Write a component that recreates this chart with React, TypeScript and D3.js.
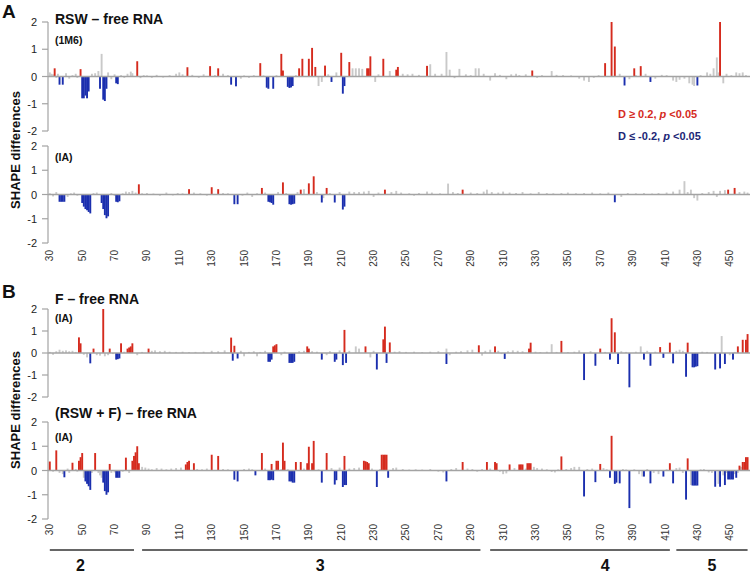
import React from "react";
import * as d3 from "d3";

// nucleotide positions shown on the x axis
const firstNt = 30;
const lastNt = 462;
const ntTicks = [30, 50, 70, 90, 110, 130, 150, 170, 190, 210, 230, 250, 270, 290, 310, 330, 350, 370, 390, 410, 430, 450];
const yTicks = [2, 1, 0, -1, -2];

// [nucleotide, SHAPE difference]
// RSW - free RNA (1M6)
const rsw1m6Up = [[33,0.3],[49,0.27],[84,0.56],[115,0.34],[129,0.38],[134,0.3],[160,0.49],[173,0.83],[174,0.22],[184,0.3],[186,0.65],[190,0.65],[192,1.05],[194,0.35],[200,0.4],[210,0.87],[215,0.53],[226,0.3],[227,0.3],[228,0.74],[236,0.65],[244,0.25],[245,0.35],[263,0.39],[328,0.22],[373,0.49],[377,2.0],[379,1.1],[391,0.3],[395,0.38],[444,2.0]];
const rsw1m6Down = [[36,-0.3],[38,-0.3],[50,-0.8],[51,-0.8],[52,-0.7],[53,-0.8],[54,-0.55],[61,-0.45],[63,-0.85],[64,-0.9],[65,-0.45],[71,-0.25],[72,-0.28],[142,-0.3],[145,-0.36],[164,-0.41],[165,-0.45],[168,-0.45],[177,-0.38],[178,-0.42],[179,-0.4],[180,-0.35],[204,-0.2],[211,-0.63],[212,-0.35],[385,-0.33],[401,-0.2],[430,-0.33]];
const rsw1m6Other = [[30,0.15],[31,0.1],[32,0.08],[34,-0.05],[35,0.1],[40,0.12],[42,-0.08],[44,0.05],[46,0.1],[47,-0.05],[56,0.1],[58,0.12],[60,0.2],[62,0.83],[66,0.15],[68,-0.1],[70,0.08],[74,0.05],[76,-0.05],[78,0.1],[80,0.18],[81,0.12],[86,-0.06],[88,0.05],[90,0.04],[93,-0.05],[96,0.06],[100,-0.04],[104,0.05],[108,0.1],[110,0.15],[112,0.08],[118,0.06],[122,-0.05],[125,0.08],[132,0.05],[137,0.1],[140,0.05],[148,-0.08],[150,0.04],[153,-0.05],[156,0.05],[162,0.04],[170,0.05],[182,0.05],[196,-0.35],[198,-0.2],[202,0.08],[207,0.15],[217,0.3],[219,0.3],[221,0.3],[223,0.28],[231,-0.2],[233,0.08],[240,0.2],[248,0.1],[251,0.08],[254,0.1],[258,0.06],[265,0.45],[268,0.1],[272,0.1],[275,0.9],[277,0.25],[280,-0.06],[283,0.28],[287,0.08],[290,0.05],[293,0.3],[295,0.3],[298,0.1],[302,-0.15],[305,0.12],[308,0.06],[312,-0.1],[315,0.08],[318,0.1],[320,0.05],[324,0.08],[331,-0.05],[334,0.05],[340,0.2],[343,0.06],[347,0.05],[352,0.04],[357,-0.08],[360,-0.15],[363,-0.2],[366,-0.05],[369,0.05],[382,0.1],[388,-0.1],[392,0.05],[398,0.1],[404,-0.08],[408,0.06],[411,0.05],[415,-0.15],[417,-0.2],[419,-0.12],[422,-0.08],[425,-0.25],[427,-0.3],[428,-0.35],[432,0.05],[436,0.15],[438,0.1],[440,0.3],[442,0.7],[443,0.15],[446,-0.25],[448,0.1],[451,0.05],[454,0.15],[456,0.12],[458,0.15],[460,0.05]];

// RSW - free RNA (IA)
const rswIaUp = [[85,0.42],[116,0.22],[130,0.3],[134,0.22],[161,0.27],[174,0.5],[185,0.2],[190,0.46],[193,0.75],[201,0.27],[237,0.2],[285,0.2],[449,0.2],[453,0.27]];
const rswIaDown = [[36,-0.3],[37,-0.3],[38,-0.3],[39,-0.3],[50,-0.35],[51,-0.5],[52,-0.6],[53,-0.65],[54,-0.72],[55,-0.78],[62,-0.35],[63,-0.6],[64,-0.85],[65,-0.98],[66,-0.9],[71,-0.3],[72,-0.32],[73,-0.28],[144,-0.4],[146,-0.4],[165,-0.3],[166,-0.32],[167,-0.35],[168,-0.42],[178,-0.4],[179,-0.42],[180,-0.4],[181,-0.38],[198,-0.33],[206,-0.33],[211,-0.62],[212,-0.5],[379,-0.32]];
const rswIaOther = [[30,0.05],[32,-0.08],[34,0.1],[41,-0.1],[43,0.05],[45,0.08],[47,-0.05],[57,0.06],[59,0.08],[68,0.06],[70,-0.06],[75,0.05],[77,0.12],[79,0.1],[81,0.15],[83,0.08],[87,0.05],[90,0.06],[94,0.04],[98,-0.05],[102,0.08],[106,-0.04],[109,0.06],[112,0.05],[119,0.08],[123,0.05],[127,-0.05],[137,0.06],[140,0.05],[149,-0.05],[152,0.08],[155,-0.1],[158,0.05],[163,0.08],[171,0.1],[176,0.06],[183,0.1],[187,0.22],[195,0.1],[199,-0.15],[203,0.06],[209,0.1],[215,0.12],[218,0.1],[221,0.1],[224,0.12],[227,0.15],[230,-0.1],[233,0.08],[241,0.1],[244,0.15],[247,0.08],[252,0.05],[255,-0.05],[258,0.06],[263,0.12],[266,0.08],[271,0.05],[276,0.45],[279,0.1],[282,0.06],[290,0.08],[294,0.06],[298,0.12],[300,0.2],[303,0.1],[307,0.08],[310,0.12],[314,0.08],[318,0.06],[322,0.1],[327,0.05],[332,0.1],[337,0.06],[341,0.05],[346,0.06],[350,0.08],[355,0.05],[360,0.06],[365,0.08],[370,0.05],[375,0.08],[383,-0.1],[387,0.06],[392,0.05],[397,0.06],[402,0.04],[406,0.06],[411,0.08],[415,0.12],[419,0.2],[422,0.55],[424,0.1],[426,0.2],[428,-0.15],[430,-0.25],[433,0.06],[437,0.1],[440,0.15],[442,-0.1],[444,0.15],[447,0.18],[456,0.1],[459,0.12],[461,0.08]];

// F - free RNA (IA)
const fIaUp = [[48,0.71],[49,0.44],[57,0.2],[63,2.0],[67,0.2],[74,0.44],[78,0.2],[79,0.25],[80,0.3],[81,0.44],[91,0.2],[142,0.7],[144,0.33],[168,0.3],[169,0.35],[170,0.4],[189,0.3],[190,0.2],[212,1.05],[225,0.3],[236,0.62],[237,1.2],[240,0.48],[295,0.35],[305,0.3],[326,0.2],[327,0.47],[346,0.55],[370,0.2],[377,1.58],[379,0.94],[407,0.27],[413,0.47],[424,0.47],[455,0.3],[458,0.6],[460,0.6],[461,0.86]];
const fIaDown = [[55,-0.47],[71,-0.3],[72,-0.28],[73,-0.25],[143,-0.35],[146,-0.25],[165,-0.4],[166,-0.4],[167,-0.3],[178,-0.45],[179,-0.45],[180,-0.45],[181,-0.4],[198,-0.3],[206,-0.4],[207,-0.3],[211,-0.55],[213,-0.45],[232,-0.75],[238,-0.45],[275,-0.5],[311,-0.27],[360,-1.23],[367,-0.58],[376,-0.3],[381,-0.5],[388,-1.56],[397,-0.3],[401,-0.58],[409,-0.22],[415,-0.47],[423,-1.08],[427,-0.65],[428,-0.65],[429,-0.62],[430,-0.6],[441,-0.75],[444,-0.7],[447,-0.5],[452,-0.3]];
const fIaOther = [[30,0.05],[32,-0.08],[34,0.08],[36,0.15],[38,0.1],[40,0.12],[42,0.08],[44,0.1],[46,0.05],[51,-0.08],[53,-0.2],[59,-0.1],[61,-0.12],[64,-0.15],[66,-0.1],[69,-0.05],[76,0.06],[84,-0.1],[87,0.05],[93,0.1],[95,0.12],[98,0.08],[101,0.1],[104,0.06],[108,0.05],[112,0.06],[116,0.04],[120,0.05],[125,0.06],[130,0.1],[134,0.08],[138,0.12],[148,0.1],[150,-0.15],[153,0.05],[156,0.08],[158,-0.15],[160,0.05],[163,0.1],[173,-0.1],[175,0.06],[184,0.08],[187,0.1],[192,0.08],[195,0.06],[201,-0.1],[203,0.08],[209,0.12],[215,0.1],[219,0.3],[221,0.2],[228,-0.2],[230,0.1],[243,0.06],[246,0.08],[250,0.05],[255,0.06],[260,0.04],[265,0.06],[270,0.08],[275,0.2],[277,-0.1],[281,0.06],[284,0.08],[288,0.12],[291,0.15],[297,-0.12],[299,0.1],[302,0.15],[307,0.1],[309,-0.05],[313,0.08],[316,0.12],[319,0.1],[322,0.08],[330,0.06],[333,0.04],[337,0.06],[340,0.4],[343,0.05],[350,0.04],[354,0.06],[357,0.12],[364,0.08],[373,0.05],[383,0.08],[386,0.05],[392,0.06],[395,0.3],[399,0.1],[404,0.06],[417,0.1],[419,0.15],[421,0.1],[433,0.06],[436,0.05],[445,0.77],[450,-0.1],[453,0.05]];

// (RSW + F) - free RNA (IA)
const rswfIaUp = [[30,0.37],[34,0.83],[44,0.32],[48,0.4],[49,0.55],[50,0.72],[58,0.72],[67,0.27],[77,0.53],[81,0.4],[82,0.6],[83,0.75],[84,1.0],[85,0.3],[114,0.25],[115,0.35],[116,0.4],[119,0.3],[130,0.65],[134,0.6],[161,0.72],[167,0.27],[170,0.4],[171,0.4],[174,1.15],[175,0.4],[182,0.35],[185,0.35],[189,0.3],[190,0.98],[192,0.3],[193,1.22],[201,0.72],[212,0.6],[224,0.4],[225,0.38],[226,0.35],[227,0.3],[235,0.65],[236,0.65],[237,0.65],[238,0.65],[285,0.35],[300,0.35],[305,0.35],[306,0.3],[314,0.25],[320,0.25],[321,0.25],[322,0.25],[325,0.3],[326,0.3],[327,0.3],[346,0.58],[370,0.27],[377,1.43],[413,0.3],[424,0.5],[456,0.2],[458,0.35],[459,0.35],[460,0.55],[461,0.55]];
const rswfIaDown = [[39,-0.28],[52,-0.45],[53,-0.55],[54,-0.65],[55,-0.8],[63,-0.5],[64,-0.85],[65,-1.0],[66,-0.9],[71,-0.3],[72,-0.3],[73,-0.3],[144,-0.38],[146,-0.45],[157,-0.2],[165,-0.4],[166,-0.4],[167,-0.38],[168,-0.4],[178,-0.45],[179,-0.45],[180,-0.5],[181,-0.5],[198,-0.5],[206,-0.58],[207,-0.4],[211,-0.68],[212,-0.6],[213,-0.6],[232,-0.68],[239,-0.3],[275,-0.45],[360,-1.07],[367,-0.48],[376,-0.3],[379,-0.55],[380,-0.5],[382,-0.53],[388,-1.55],[397,-0.25],[401,-0.53],[409,-0.25],[415,-0.53],[423,-1.2],[427,-0.62],[428,-0.62],[429,-0.62],[430,-0.62],[441,-0.67],[444,-0.67],[447,-0.6],[449,-0.37],[450,-0.37],[451,-0.37],[452,-0.37],[454,-0.3]];
const rswfIaOther = [[32,-0.05],[36,-0.1],[38,-0.15],[41,0.08],[42,-0.1],[46,0.06],[47,-0.05],[51,-0.3],[56,-0.1],[60,-0.1],[61,-0.2],[62,-0.3],[68,-0.1],[70,-0.08],[75,-0.05],[79,-0.1],[87,0.15],[89,0.12],[91,0.08],[93,0.05],[96,0.1],[99,0.08],[102,0.05],[105,0.08],[108,0.1],[111,0.12],[121,0.06],[124,0.05],[127,0.08],[137,0.06],[140,0.05],[150,0.06],[153,0.08],[155,0.05],[163,0.08],[173,0.06],[177,0.05],[187,0.08],[196,0.05],[204,0.1],[209,0.12],[215,0.08],[218,0.1],[221,0.12],[229,0.08],[234,0.06],[242,0.1],[244,0.12],[248,0.06],[252,0.04],[256,0.05],[260,0.04],[265,0.06],[270,-0.05],[273,-0.08],[278,0.06],[281,0.1],[288,0.08],[291,0.06],[294,-0.05],[297,0.06],[302,0.08],[308,-0.05],[310,-0.15],[312,-0.12],[317,0.1],[324,0.08],[329,0.15],[331,0.1],[334,0.08],[337,0.05],[340,-0.06],[342,-0.08],[344,0.05],[349,0.06],[352,0.1],[354,0.15],[357,0.15],[362,0.06],[365,0.08],[372,0.1],[374,0.05],[384,0.06],[386,0.04],[391,0.05],[394,-0.15],[396,-0.25],[399,0.06],[403,-0.1],[406,-0.15],[411,0.05],[417,0.1],[419,0.12],[421,-0.1],[426,-0.6],[432,0.05],[434,0.06],[437,-0.08],[439,-0.1],[443,-0.55],[446,-0.2],[448,-0.1],[453,-0.15],[455,-0.1],[457,0.15]];

// structural domains under the chart: [label, from nt, to nt, label nt]
const domains = [["2", 30, 82, 49], ["3", 87, 296, 197], ["4", 302, 413, 373], ["5", 417, 461, 439]];

const FONT = "'Liberation Sans', Arial, Helvetica, sans-serif";
const RED = "#d52b1e";
const BLUE = "#1b2fae";
const GREY = "#c9c9c9";
const AXIS = "#a3a3a3";

const panels = [
  { title: "RSW \u2013 free RNA", sub: "(1M6)", up: rsw1m6Up, down: rsw1m6Down, other: rsw1m6Other, top: 22, bottom: 131, titleY: 24, subY: 44 },
  { title: "", sub: "(IA)", up: rswIaUp, down: rswIaDown, other: rswIaOther, top: 146, bottom: 243, titleY: 0, subY: 161 },
  { title: "F \u2013 free RNA", sub: "(IA)", up: fIaUp, down: fIaDown, other: fIaOther, top: 309, bottom: 397, titleY: 304, subY: 322 },
  { title: "(RSW + F) \u2013 free RNA", sub: "(IA)", up: rswfIaUp, down: rswfIaDown, other: rswfIaOther, top: 422, bottom: 519, titleY: 418, subY: 441 },
];

export default function App() {
  const x = d3
    .scaleBand<number>()
    .domain(d3.range(firstNt, lastNt + 1))
    .range([49, 750]);
  const cx = (n: number) => (x(n) ?? 0) + x.bandwidth() / 2;
  const barW = 1.9;

  const drawPanel = (p: any, i: number) => {
    const y = d3.scaleLinear().domain([-2, 2]).range([p.bottom, p.top]);
    const bars = (list: number[][], color: string, key: string) =>
      list.map(([n, v]) => {
        const vv = Math.max(-2, Math.min(2, v));
        return (
          <rect
            key={key + n}
            x={cx(n) - barW / 2}
            y={y(Math.max(0, vv))}
            width={barW}
            height={Math.abs(y(vv) - y(0))}
            fill={color}
          />
        );
      });
    return (
      <g key={i}>
        {/* y axis */}
        <line x1={48} x2={48} y1={y(2)} y2={y(-2)} stroke={AXIS} strokeWidth={1.2} />
        {yTicks.map((t) => (
          <g key={t}>
            <line x1={42} x2={48} y1={y(t)} y2={y(t)} stroke={AXIS} strokeWidth={1.2} />
            <text x={37} y={y(t) + 4} textAnchor="end" fontSize={11} fill="#222" fontFamily={FONT}>
              {t}
            </text>
          </g>
        ))}
        {bars(p.other, GREY, "o")}
        {bars(p.up, RED, "u")}
        {bars(p.down, BLUE, "d")}
        {/* zero line */}
        <line x1={48} x2={750} y1={y(0)} y2={y(0)} stroke={AXIS} strokeWidth={1.5} />
        {p.title && (
          <text x={55} y={p.titleY} fontSize={14} fontWeight="bold" fill="#111" fontFamily={FONT}>
            {p.title}
          </text>
        )}
        <text x={55} y={p.subY} fontSize={10.5} fontWeight="bold" fill="#111" fontFamily={FONT}>
          {p.sub}
        </text>
      </g>
    );
  };

  const xLabels = (yEnd: number, k: string) =>
    ntTicks.map((t) => (
      <text
        key={k + t}
        transform={`translate(${cx(t) + 3.5},${yEnd}) rotate(-90)`}
        textAnchor="end"
        fontSize={10}
        fill="#333"
        fontFamily={FONT}
      >
        {t}
      </text>
    ));

  return (
    <svg
      width={750}
      height={577}
      style={{ position: "absolute", left: 0, top: 0, background: "#fff" }}
    >
      <rect width={750} height={577} fill="#fff" />
      <text x={2} y={18} fontSize={19} fontWeight="bold" fill="#111" fontFamily={FONT}>A</text>
      <text x={2} y={298} fontSize={19} fontWeight="bold" fill="#111" fontFamily={FONT}>B</text>

      <text transform="translate(20,150) rotate(-90)" textAnchor="middle" fontSize={13} fontWeight="bold" fill="#111" fontFamily={FONT}>
        SHAPE differences
      </text>
      <text transform="translate(20,410) rotate(-90)" textAnchor="middle" fontSize={13} fontWeight="bold" fill="#111" fontFamily={FONT}>
        SHAPE differences
      </text>

      {panels.map(drawPanel)}

      {xLabels(250, "a")}
      {xLabels(524, "b")}

      {/* legend */}
      <text x={618} y={118} fontSize={11} fontWeight="bold" fill={RED} fontFamily={FONT}>
        D {"\u2265"} 0.2, <tspan fontStyle="italic">p</tspan> {"<"}0.05
      </text>
      <text x={618} y={140} fontSize={11} fontWeight="bold" fill="#1c2676" fontFamily={FONT}>
        D {"\u2264"} -0.2, <tspan fontStyle="italic">p</tspan> {"<"}0.05
      </text>

      {/* domains */}
      {domains.map(([lab, a, b, m]) => (
        <g key={lab as string}>
          <line x1={cx(a as number)} x2={cx(b as number)} y1={550} y2={550} stroke="#333" strokeWidth={1.4} />
          <text x={cx(m as number)} y={571} textAnchor="middle" fontSize={16} fontWeight="bold" fill="#111" fontFamily={FONT}>
            {lab}
          </text>
        </g>
      ))}
    </svg>
  );
}
